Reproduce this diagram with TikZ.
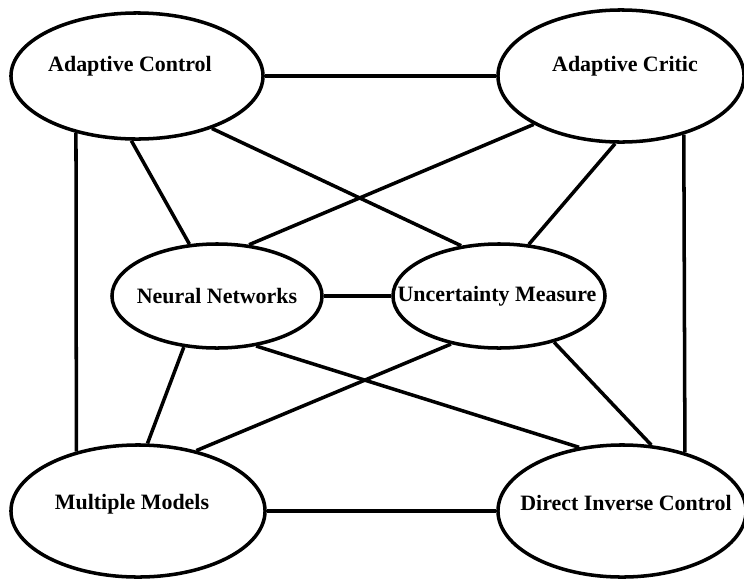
\documentclass[tikz,border=0pt]{standalone}
\usepackage{fontspec}
\newfontfamily\topicfont{LiberationSerif}[Extension=.ttf, UprightFont=*-Bold, BoldFont=*-Bold]
\usetikzlibrary{shapes.geometric}

\begin{document}
\begin{tikzpicture}[x=0.025cm, y=0.025cm, line width=2.5pt,
  topic/.style={draw, ellipse, inner sep=0pt},
  every label/.style={font=\topicfont\fontsize{15.6}{18}\selectfont, inner sep=0pt}]
  \useasboundingbox (0,0) rectangle (744,-580);

  % six topics
  \node[topic, minimum width=6.3cm, minimum height=3.15cm,
    label={[xshift=-0.175cm, yshift=0.24cm]center:Adaptive Control}] (ac) at (137,-76) {};
  \node[topic, minimum width=6.15cm, minimum height=3.3cm,
    label={[xshift=0.1cm, yshift=0.24cm]center:Adaptive Critic}] (acr) at (621,-76) {};
  \node[topic, minimum width=5.25cm, minimum height=2.6cm,
    label={center:Neural Networks}] (nn) at (217,-296) {};
  \node[topic, minimum width=5.3cm, minimum height=2.6cm,
    label={[xshift=-0.05cm]center:Uncertainty Measure}] (um) at (499,-296) {};
  \node[topic, minimum width=6.35cm, minimum height=3.3cm,
    label={[xshift=-0.15cm, yshift=0.17cm]center:Multiple Models}] (mm) at (138,-511) {};
  \node[topic, minimum width=6.2cm, minimum height=3.3cm,
    label={[xshift=0.1cm, yshift=0.2cm]center:Direct Inverse Control}] (dic) at (622,-511) {};

  % links
  \draw (ac.east) -- (acr.west);
  \draw (nn.east) -- (um.west);
  \draw (mm.east) -- (dic.west);
  \draw (ac.223) -- (mm.136);
  \draw (acr.-43) -- (dic.43);
  \draw (ac.265) -- (nn.118);
  \draw (ac.-35) -- (um.127);
  \draw (acr.209) -- (nn.58);
  \draw (acr.265) -- (um.60);
  \draw (nn.237) -- (mm.82);
  \draw (nn.-52) -- (dic.124);
  \draw (um.225) -- (mm.46);
  \draw (um.-40) -- (dic.66);
\end{tikzpicture}
\end{document}
